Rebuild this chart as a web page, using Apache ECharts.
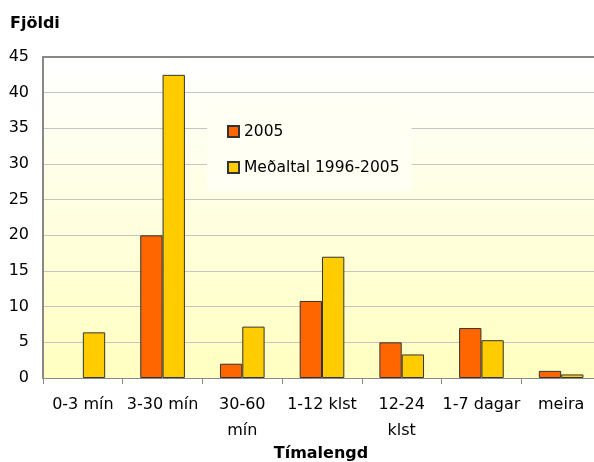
<!DOCTYPE html>
<html>
<head>
<meta charset="utf-8">
<script src="https://cdn.jsdelivr.net/npm/echarts@6/dist/echarts.min.js"></script>
<style>
  html, body { margin: 0; padding: 0; background: #fff; }
  #chart { width: 594px; height: 462px; }
</style>
</head>
<body>
<div id="chart"></div>
<script>
// flokkar og gildi lesin af myndinni
const categories = ['0-3 mín', '3-30 mín', '30-60\nmín', '1-12 klst', '12-24\nklst', '1-7 dagar', 'meira']
const values2005 = [0, 20, 2, 10.8, 5, 7, 1]
const valuesAvg = [6.4, 42.5, 7.2, 17, 3.3, 5.3, 0.5]
const yTicks = [0, 5, 10, 15, 20, 25, 30, 35, 40, 45]

const font = 'DejaVu Sans, Arial, sans-serif'
const chart = echarts.init(document.getElementById('chart'))

// súla með gildið 0 á ekki að fá ramma
const toItems = (arr) => arr.map(v => v === 0 ? { value: v, itemStyle: { borderWidth: 0 } } : v)

chart.setOption({
  animation: false,
  textStyle: { fontFamily: font },
  title: [{
    text: 'Fjöldi',
    left: 5,
    top: 11,
    textStyle: { fontSize: 16, fontWeight: 'bold', color: '#000', fontFamily: font }
  }, {
    text: 'Tímalengd',
    left: 316,
    textAlign: 'center',
    top: 441,
    textStyle: { fontSize: 16, fontWeight: 'bold', color: '#000', fontFamily: font }
  }],
  grid: {
    left: 43,
    top: 57,
    width: 558,
    height: 321,
    outerBoundsMode: 'none',
    containLabel: false,
    show: true,
    borderWidth: 0,
    backgroundColor: new echarts.graphic.LinearGradient(0, 0, 0, 1, [
      { offset: 0, color: '#FFFFFF' },
      { offset: 1, color: '#FFFFC0' }
    ])
  },
  legend: {
    orient: 'vertical',
    left: 207,
    top: 108,
    padding: [14, 12, 14, 20],
    itemGap: 17,
    itemWidth: 11,
    itemHeight: 11,
    icon: 'rect',
    backgroundColor: '#FFFFF4',
    textStyle: { fontSize: 15.5, color: '#000', fontFamily: font, lineHeight: 19 },
    data: ['2005', 'Meðaltal 1996-2005']
  },
  xAxis: [{
    type: 'category',
    data: categories,
    axisLine: { lineStyle: { color: '#888', width: 1 } },
    axisTick: { show: true, length: 6, lineStyle: { color: '#888' } },
    axisLabel: { color: '#000', fontSize: 16, margin: 14, lineHeight: 26, interval: 0 }
  }, {
    type: 'category',
    data: categories,
    position: 'top',
    axisLine: { lineStyle: { color: '#888', width: 2 } },
    axisTick: { show: false },
    axisLabel: { show: false }
  }],
  yAxis: {
    type: 'value',
    min: 0,
    max: yTicks[yTicks.length - 1],
    interval: 5,
    axisLine: { show: true, lineStyle: { color: '#888', width: 2 } },
    axisTick: { show: false },
    axisLabel: { color: '#000', fontSize: 16, margin: 14 },
    splitLine: { lineStyle: { color: '#C4C4C4', width: 1 } }
  },
  series: [{
    name: '2005',
    type: 'bar',
    data: toItems(values2005),
    barGap: '0%',
    barCategoryGap: '44%',
    itemStyle: { color: '#FF6600', borderColor: '#333', borderWidth: 1 }
  }, {
    name: 'Meðaltal 1996-2005',
    type: 'bar',
    data: toItems(valuesAvg),
    itemStyle: { color: '#FFCC00', borderColor: '#333', borderWidth: 1 }
  }]
})
</script>
</body>
</html>
